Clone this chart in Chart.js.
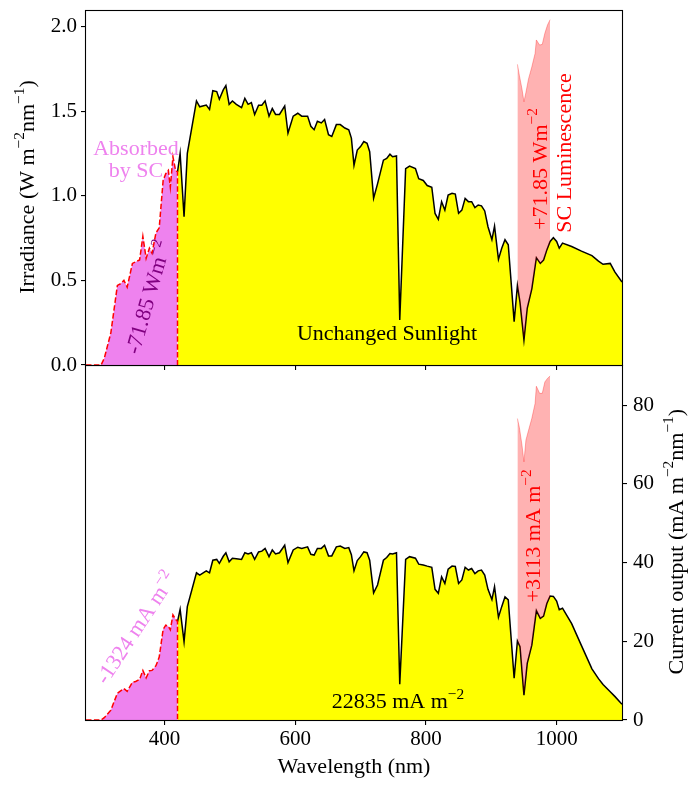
<!DOCTYPE html>
<html><head><meta charset="utf-8">
<script src="https://cdn.jsdelivr.net/npm/chart.js@4.4.1/dist/chart.umd.min.js"></script>
<style>
html,body{margin:0;padding:0;background:#fff;}
#wrap{position:relative;width:690px;height:785px;background:#fff;}
canvas{position:absolute;left:0;top:0;}
</style></head><body>
<div id="wrap"><canvas id="bot" width="690" height="785"></canvas><canvas id="top" width="690" height="785"></canvas></div>
<script>
// ---------- data ----------
const wlAbs = [280,303,308,318,328,333,338,343,351,356,362,367,372,377,381,387,392,398,402,406,409,413,417,420];
const irrAbs = [0,0,0.04,0.19,0.47,0.48,0.50,0.46,0.60,0.61,0.62,0.76,0.63,0.69,0.66,0.78,0.81,1.09,1.13,1.15,1.05,1.23,1.15,1.14];
const curAbs = [0,0,0.6,2.5,6.8,7.4,8.0,7.3,9.6,9.8,10.3,12.6,10.7,12.5,12.6,13.8,16.0,23.0,24.1,23.8,22.9,26.7,25.6,25.0];

const wl = [420,424,430,435,449,454,464,469,474,480,484,490,494,499,504,510,518,523,528,533,538,544,549,554,560,565,570,576,584,589,597,604,610,619,624,629,634,640,645,651,656,663,669,676,682,686,690,695,700,705,710,714,720,726,735,740,745,749,755,760,769,775,784,789,796,802,809,814,819,824,829,834,840,845,850,855,860,865,870,875,880,885,890,895,901,905,911,916,921,926,935,940,944,950,955,962,969,975,980,985,990,995,1000,1004,1009,1023,1038,1054,1064,1071,1082,1089,1100];
const irr = [1.14,1.25,0.876,1.25,1.56,1.525,1.535,1.51,1.62,1.615,1.57,1.625,1.65,1.54,1.56,1.54,1.52,1.575,1.54,1.55,1.48,1.535,1.535,1.56,1.47,1.515,1.48,1.48,1.53,1.37,1.47,1.487,1.47,1.47,1.41,1.39,1.44,1.43,1.45,1.36,1.35,1.42,1.42,1.40,1.39,1.34,1.18,1.27,1.29,1.32,1.31,1.26,0.985,1.07,1.21,1.22,1.245,1.23,1.235,0.266,1.16,1.175,1.16,1.10,1.09,1.06,1.05,0.895,0.86,0.965,0.915,1.004,1.014,1.01,0.896,0.915,0.984,0.965,0.965,0.93,0.945,0.94,0.91,0.817,0.74,0.82,0.624,0.69,0.74,0.71,0.256,0.47,0.37,0.148,0.335,0.45,0.634,0.60,0.62,0.68,0.73,0.752,0.73,0.69,0.72,0.70,0.673,0.646,0.614,0.595,0.60,0.55,0.49];
const cur = [25.0,28.1,19.9,28.8,37.4,36.8,37.9,37.4,40.6,40.8,39.8,41.6,42.5,40.2,41.1,41.0,40.8,42.5,42.2,42.5,40.8,42.7,42.9,43.6,41.5,43.2,42.2,42.5,44.4,40.0,43.2,43.9,43.6,44.0,42.1,41.9,43.6,43.6,44.4,41.7,41.7,44.0,44.2,43.6,43.8,42.0,37.9,40.5,41.5,42.7,42.5,40.6,32.3,34.3,40.6,41.3,42.3,42.2,42.5,9.1,40.8,41.5,41.1,39.6,39.4,39.1,38.8,33.2,32.2,36.4,34.7,38.3,39.1,39.0,34.7,35.6,38.8,38.1,38.5,37.2,37.9,38.1,36.8,33.2,30.6,33.9,26.1,28.8,31.3,30.5,10.6,20.1,18.6,6.3,14.4,19.0,27.8,25.8,26.4,29.6,31.5,31.4,30.2,28.0,28.4,24.5,18.9,13.0,10.5,9.0,7.2,6.0,4.0];

const wlLum = [940,943,947,950,953,957,962,967,969,974,978,982,986,990];
const irrLum = [1.776,1.71,1.63,1.555,1.61,1.69,1.76,1.84,1.92,1.89,1.894,1.96,2.008,2.04];
const curLum = [76.6,74.3,69.8,65.6,71.1,73.6,76.6,80.4,84.8,83.0,83.0,85.9,86.8,87.4];

const xTicks = [400,600,800,1000];
const irrTicks = [0,0.5,1.0,1.5,2.0];
const curTicks = [0,20,40,60,80];

// ---------- helpers ----------
const FAM = "'Liberation Serif','Times New Roman',serif";
Chart.defaults.font.family = FAM;
Chart.defaults.color = '#000';

function pts(xs, ys){ return xs.map((x,i)=>({x:x, y:ys[i]})); }
function closeDown(arr){ const l = arr[arr.length-1]; return arr.concat([{x:l.x, y:0}]); }

function measureRich(ctx, parts, size){
  let w = 0;
  for (const p of parts){ ctx.font = (p[1] ? size*0.7 : size) + 'px ' + FAM; w += ctx.measureText(p[0]).width; }
  return w;
}
function drawRich(ctx, parts, x, y, size, color, angleDeg, align, vcenter){
  ctx.save();
  ctx.translate(x, y);
  ctx.rotate(-angleDeg*Math.PI/180);
  ctx.fillStyle = color;
  ctx.textBaseline = 'alphabetic';
  ctx.textAlign = 'left';
  const w = measureRich(ctx, parts, size);
  let cx = align === 'center' ? -w/2 : 0;
  const by = vcenter ? size*0.33 : 0;
  for (const p of parts){
    const s = p[1] ? size*0.7 : size;
    ctx.font = s + 'px ' + FAM;
    ctx.fillText(p[0], cx, by + (p[1] ? -size*0.42 : 0));
    cx += ctx.measureText(p[0]).width;
  }
  ctx.restore();
}
function zeroPad(s){ s.paddingTop = 0; s.paddingBottom = 0; s.paddingLeft = 0; s.paddingRight = 0; }
function setTicks(vals){ return function(s){ s.ticks = vals.map(v=>({value:v})); }; }

function spines(chart){
  const a = chart.chartArea, ctx = chart.ctx;
  ctx.save();
  ctx.strokeStyle = '#000';
  ctx.lineWidth = 1.1;
  ctx.strokeRect(Math.round(a.left)-0.5, Math.round(a.top)+0.5, Math.round(a.right-a.left)+1, Math.round(a.bottom-a.top));
  ctx.restore();
}

const TXT = 22;

// ---------- top chart ----------
const topPlugin = {
  id: 'topDeco',
  afterDraw(chart){
    const ctx = chart.ctx, xs = chart.scales.x, ys = chart.scales.y;
    spines(chart);
    drawRich(ctx, [['Unchanged Sunlight',0]], xs.getPixelForValue(740.5), ys.getPixelForValue(0.148), TXT, '#000', 0, 'center', false);
    drawRich(ctx, [['Absorbed',0]], xs.getPixelForValue(356.5), ys.getPixelForValue(1.24), TXT, 'violet', 0, 'center', false);
    drawRich(ctx, [['by SC',0]], xs.getPixelForValue(356.5), ys.getPixelForValue(1.11), TXT, 'violet', 0, 'center', false);
    drawRich(ctx, [['-71.85 Wm',0],['\u22122',1]], xs.getPixelForValue(374.8), ys.getPixelForValue(0.40), TXT, 'purple', 74, 'center', true);
    drawRich(ctx, [['+71.85 Wm',0],['\u22122',1]], xs.getPixelForValue(984.8), ys.getPixelForValue(1.158), TXT, 'red', 90, 'center', false);
    drawRich(ctx, [['SC Luminescence',0]], xs.getPixelForValue(1022), ys.getPixelForValue(1.252), TXT, 'red', 90, 'center', false);
    drawRich(ctx, [['Irradiance (W m',0],['\u22122',1],['nm',0],['\u22121',1],[')',0]], 33.5, 187, TXT, '#000', 90, 'center', false);
  }
};

new Chart(document.getElementById('top'), {
  type: 'line',
  data: { datasets: [
    { data: pts(wl, irr), borderColor: '#000', borderWidth: 1.5, fill: 'origin', backgroundColor: '#ffff00', pointRadius: 0, tension: 0, order: 2 },
    { data: pts(wlLum, irrLum), borderColor: 'rgba(255,0,0,0.3)', borderWidth: 1, fill: '-1', backgroundColor: 'rgba(255,0,0,0.3)', pointRadius: 0, tension: 0, order: 1 },
    { data: closeDown(pts(wlAbs, irrAbs)), borderColor: 'red', borderWidth: 1.5, borderDash: [5.5,2.4], fill: 'origin', backgroundColor: 'violet', pointRadius: 0, tension: 0, order: 0 }
  ]},
  options: {
    responsive: false, animation: false, devicePixelRatio: 1,
    layout: { padding: { top: 10, right: 68, left: 0, bottom: 0 } },
    plugins: { legend: { display: false }, tooltip: { enabled: false } },
    scales: {
      x: { type: 'linear', min: 280, max: 1100, position: 'bottom',
        afterBuildTicks: setTicks(xTicks),
        ticks: { display: false },
        grid: { drawOnChartArea: false, drawTicks: true, tickLength: 5, color: '#000', lineWidth: 1.1 },
        border: { display: false },
        afterFit(s){ s.height = 420; zeroPad(s); } },
      y: { type: 'linear', min: 0, max: 2.097, position: 'left',
        afterBuildTicks: setTicks(irrTicks),
        ticks: { font: { size: 21 }, padding: 4, callback: v => v.toFixed(1) },
        grid: { drawOnChartArea: false, drawTicks: true, tickLength: 5, color: '#000', lineWidth: 1.1 },
        border: { display: false },
        afterFit(s){ s.width = 86; zeroPad(s); } }
    }
  },
  plugins: [topPlugin]
});

// ---------- bottom chart ----------
const botPlugin = {
  id: 'botDeco',
  afterDraw(chart){
    const ctx = chart.ctx, xs = chart.scales.x, ys = chart.scales.y;
    spines(chart);
    drawRich(ctx, [['22835 mA m',0],['\u22122',1]], xs.getPixelForValue(757.3), ys.getPixelForValue(3.05), TXT, '#000', 0, 'center', false);
    drawRich(ctx, [['+3113 mA m',0],['\u22122',1]], xs.getPixelForValue(974.5), ys.getPixelForValue(46.8), TXT, 'red', 90, 'center', false);
    drawRich(ctx, [['-1324 mA m',0],['\u22122',1]], xs.getPixelForValue(356.5), ys.getPixelForValue(23.4), TXT, 'violet', 56.5, 'center', true);
    drawRich(ctx, [['Current output (mA m',0],['\u22122',1],['nm',0],['\u22121',1],[')',0]], 682.5, 541.7, TXT, '#000', 90, 'center', false);
    drawRich(ctx, [['Wavelength (nm)',0]], 354, 773, TXT, '#000', 0, 'center', false);
  }
};

new Chart(document.getElementById('bot'), {
  type: 'line',
  data: { datasets: [
    { data: pts(wl, cur), borderColor: '#000', borderWidth: 1.5, fill: 'origin', backgroundColor: '#ffff00', pointRadius: 0, tension: 0, order: 2 },
    { data: pts(wlLum, curLum), borderColor: 'rgba(255,0,0,0.3)', borderWidth: 1, fill: '-1', backgroundColor: 'rgba(255,0,0,0.3)', pointRadius: 0, tension: 0, order: 1 },
    { data: closeDown(pts(wlAbs, curAbs)), borderColor: 'red', borderWidth: 1.5, borderDash: [5.5,2.4], fill: 'origin', backgroundColor: 'violet', pointRadius: 0, tension: 0, order: 0 }
  ]},
  options: {
    responsive: false, animation: false, devicePixelRatio: 1,
    layout: { padding: { top: 365, right: 0, left: 86, bottom: 0 } },
    plugins: { legend: { display: false }, tooltip: { enabled: false } },
    scales: {
      x: { type: 'linear', min: 280, max: 1100, position: 'bottom',
        afterBuildTicks: setTicks(xTicks),
        ticks: { font: { size: 21 }, padding: 2, maxRotation: 0, autoSkip: false, callback: v => String(v) },
        grid: { drawOnChartArea: false, drawTicks: true, tickLength: 5, color: '#000', lineWidth: 1.1 },
        border: { display: false },
        afterFit(s){ s.height = 65; zeroPad(s); } },
      y: { type: 'linear', min: 0, max: 90.2, position: 'right',
        afterBuildTicks: setTicks(curTicks),
        ticks: { font: { size: 21 }, padding: 6, callback: v => String(v) },
        grid: { drawOnChartArea: false, drawTicks: true, tickLength: 5, color: '#000', lineWidth: 1.1 },
        border: { display: false },
        afterFit(s){ s.width = 68; zeroPad(s); } }
    }
  },
  plugins: [botPlugin]
});
</script>
</body></html>
